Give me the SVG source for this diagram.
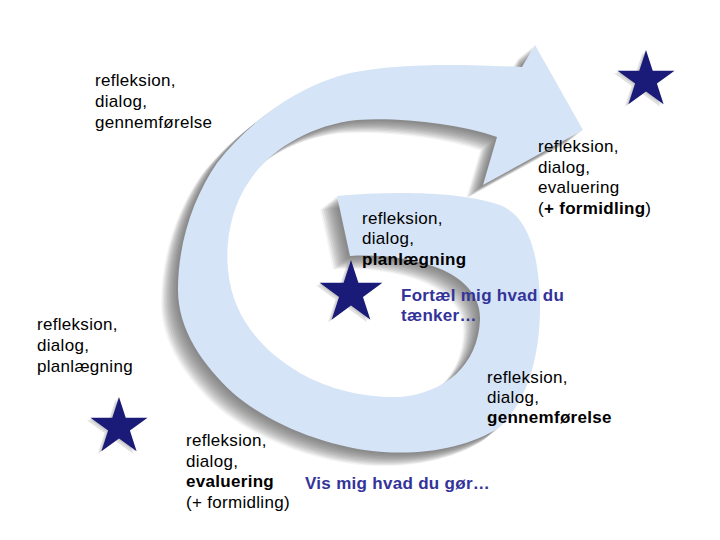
<svg xmlns="http://www.w3.org/2000/svg" xmlns:xlink="http://www.w3.org/1999/xlink" width="720" height="540" viewBox="0 0 720 540">
<defs>
<style>
.t{font-family:"Liberation Sans",Arial,sans-serif;font-size:17px;letter-spacing:0.3px;fill:#000}
.b{font-weight:bold}
.blue{fill:#333399;font-weight:bold}
.star{fill:#1a1a78}
.sh{fill:#5a5a5a;opacity:0.1}
.ssh{fill:#888;opacity:0.25}
</style>
<path id="band" d="M337,196 C390,191 460,191 500,205 C525,215 538,245 540,300 C541,355 528,400 500,427 C470,447 425,455 383,452 C330,448 270,425 233,393 C203,365 178,330 178,290 C178,240 195,195 217,163 C250,120 300,85 350,73 C400,63 460,64 522,67 L535,45 L583,130 L483,185 L497,137 C460,124 400,117 357,120 C310,125 270,150 250,180 C232,205 225,240 228,270 C232,315 260,350 300,373 C330,390 365,398 400,397 C445,393 478,365 480,320 C481,297 465,280 443,270 C415,258 380,254 350,256 Z"/>
<path id="starshape" d="M0,-30 L6.74,-9.27 L28.53,-9.27 L10.9,3.54 L17.63,24.27 L0,11.46 L-17.63,24.27 L-10.9,3.54 L-28.53,-9.27 L-6.74,-9.27 Z"/>
</defs>
<rect width="720" height="540" fill="#fff"/>
<g id="connectors">
<g id="cycle-arrow-shadow">
<use xlink:href="#band" class="sh" transform="translate(-2,1.6)"/>
<use xlink:href="#band" class="sh" transform="translate(-3.5,2.8)"/>
<use xlink:href="#band" class="sh" transform="translate(-5,4)"/>
<use xlink:href="#band" class="sh" transform="translate(-6.5,5.2)"/>
<use xlink:href="#band" class="sh" transform="translate(-8,6.4)"/>
<use xlink:href="#band" class="sh" transform="translate(-9.5,7.6)"/>
<use xlink:href="#band" class="sh" transform="translate(-11,8.8)"/>
<use xlink:href="#band" class="sh" transform="translate(-12.5,10)"/>
<use xlink:href="#band" class="sh" transform="translate(-14,11.2)"/>
<use xlink:href="#band" class="sh" transform="translate(-15.5,12.4)"/>
<use xlink:href="#band" class="sh" transform="translate(-17,13.6)" style="opacity:0.06"/>
</g>
<use id="cycle-arrow" xlink:href="#band" fill="#d5e4f6"/>
</g>
<g id="star-top-right">
<use xlink:href="#starshape" class="ssh" transform="translate(642.5,82.5)"/>
<use xlink:href="#starshape" class="ssh" transform="translate(644.5,81)"/>
<use xlink:href="#starshape" class="star" transform="translate(646,80)"/>
</g>
<g id="star-center">
<use xlink:href="#starshape" class="ssh" transform="translate(347.5,295.5) scale(1.1)"/>
<use xlink:href="#starshape" class="ssh" transform="translate(349.5,294) scale(1.1)"/>
<use xlink:href="#starshape" class="star" transform="translate(351,293) scale(1.1)"/>
</g>
<g id="star-bottom-left">
<use xlink:href="#starshape" class="ssh" transform="translate(115.5,429.5)"/>
<use xlink:href="#starshape" class="ssh" transform="translate(117.5,428)"/>
<use xlink:href="#starshape" class="star" transform="translate(119,427)"/>
</g>
<g id="label-top-left">
<text class="t" x="95" y="86">refleksion,</text>
<text class="t" x="95" y="107">dialog,</text>
<text class="t" x="95" y="128">gennemførelse</text>
</g>
<g id="label-top-right">
<text class="t" x="538" y="152">refleksion,</text>
<text class="t" x="538" y="172.5">dialog,</text>
<text class="t" x="538" y="193">evaluering</text>
<text class="t" x="538" y="213.5">(<tspan class="b">+ formidling</tspan>)</text>
</g>
<g id="label-center">
<text class="t" x="362" y="223.5">refleksion,</text>
<text class="t" x="362" y="244">dialog,</text>
<text class="t b" x="362" y="264.5">planlægning</text>
</g>
<g id="label-tell">
<text class="t blue" x="401" y="301">Fortæl mig hvad du</text>
<text class="t blue" x="401" y="321">tænker…</text>
</g>
<g id="label-left">
<text class="t" x="37" y="330">refleksion,</text>
<text class="t" x="37" y="351">dialog,</text>
<text class="t" x="37" y="372">planlægning</text>
</g>
<g id="label-bottom-right">
<text class="t" x="487" y="383">refleksion,</text>
<text class="t" x="487" y="403">dialog,</text>
<text class="t b" x="487" y="423">gennemførelse</text>
</g>
<g id="label-bottom-left">
<text class="t" x="186" y="446">refleksion,</text>
<text class="t" x="186" y="466.5">dialog,</text>
<text class="t b" x="186" y="487">evaluering</text>
<text class="t" x="186" y="507.5">(+ formidling)</text>
</g>
<g id="label-show">
<text class="t blue" x="305" y="489">Vis mig hvad du gør…</text>
</g>
</svg>
